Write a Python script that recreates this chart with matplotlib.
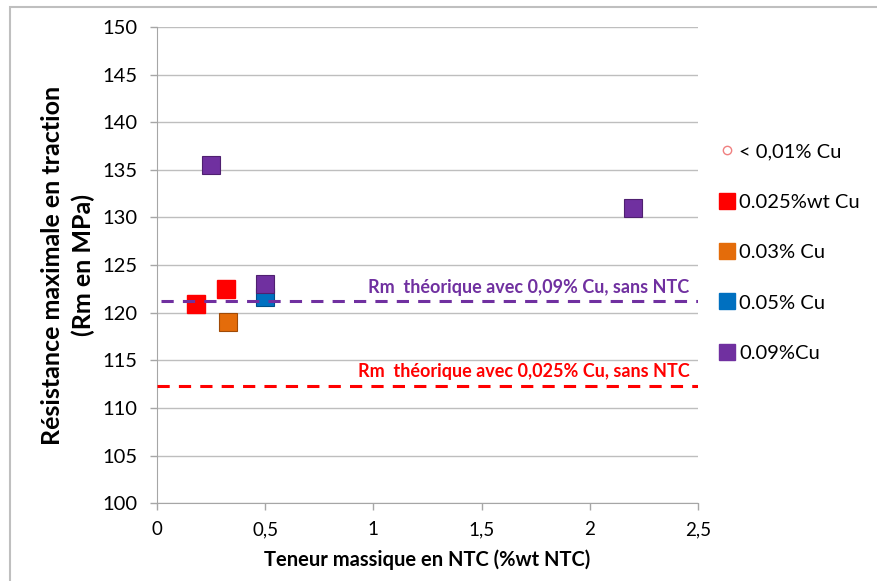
import matplotlib.pyplot as plt
from matplotlib.lines import Line2D
from matplotlib.patches import Rectangle

plt.rcParams['font.family'] = ['Lato', 'DejaVu Sans']

# NTC content (%wt) and tensile strength (MPa) per copper grade
ntc_001 = []
rm_001 = []
ntc_0025 = [0.18, 0.32]
rm_0025 = [120.9, 122.5]
ntc_003 = [0.33]
rm_003 = [119.0]
ntc_005 = [0.50]
rm_005 = [121.7]
ntc_009 = [0.25, 0.50, 2.20]
rm_009 = [135.5, 123.0, 131.0]

# theoretical Rm without NTC
rm_theo_009 = 121.25
rm_theo_0025 = 112.3

labels = ['< 0,01% Cu', '0.025%wt Cu', '0.03% Cu', '0.05% Cu', '0.09%Cu']

c_red = '#FF0000'
c_orange = '#E46C0A'
c_blue = '#0070C0'
c_purple = '#7030A0'

fig = plt.figure(figsize=(8.77, 5.81), dpi=100)
ax = fig.add_axes([0.179, 0.134, 0.617, 0.8195])

ms = 13.5
ax.plot(ntc_001, rm_001, 'o', mfc='none', mec='#F08080', ms=5, zorder=3)
ax.plot(ntc_0025, rm_0025, 's', color=c_red, mec=c_red, ms=ms, zorder=3)
ax.plot(ntc_003, rm_003, 's', color=c_orange, mec='#A04A06', mew=0.8, ms=ms, zorder=3)
ax.plot(ntc_005, rm_005, 's', color=c_blue, mec='#004F88', mew=0.8, ms=ms, zorder=3)
ax.plot(ntc_009, rm_009, 's', color=c_purple, mec='#4F2070', mew=0.8, ms=ms, zorder=4)

ax.plot([0.02, 2.5], [rm_theo_009] * 2, ls=(0, (4, 3)), color=c_purple, lw=2.2, zorder=5)
ax.plot([0.0, 2.5], [rm_theo_0025] * 2, ls=(0, (4, 3)), color=c_red, lw=2.2, zorder=5)
ax.text(2.46, rm_theo_009 + 0.5, 'Rm  théorique avec 0,09% Cu, sans NTC',
        color=c_purple, fontsize=13, fontweight='bold', ha='right', va='bottom')
ax.text(2.46, rm_theo_0025 + 0.6, 'Rm  théorique avec 0,025% Cu, sans NTC',
        color=c_red, fontsize=13, fontweight='bold', ha='right', va='bottom')

ax.set_xlim(0, 2.5)
ax.set_ylim(100, 150)
ax.set_xticks([0, 0.5, 1, 1.5, 2, 2.5])
ax.set_xticklabels(['0', '0,5', '1', '1,5', '2', '2,5'])
ax.set_yticks(range(100, 151, 5))
ax.grid(axis='y', color='#BEBEBE', lw=1)
ax.set_axisbelow(True)
for s in ['top', 'right']:
    ax.spines[s].set_visible(False)
for s in ['left', 'bottom']:
    ax.spines[s].set_color('#A6A6A6')
ax.tick_params(axis='both', colors='#A6A6A6', length=5, width=1, labelcolor='black')
ax.tick_params(axis='y', labelsize=14.5, pad=9)
ax.tick_params(axis='x', labelsize=13.5, pad=8)

ax.set_xlabel('Teneur massique en NTC (%wt NTC)', fontsize=14.5, fontweight='bold', labelpad=8)
ax.set_ylabel('Résistance maximale en traction\n(Rm en MPa)', fontsize=18, fontweight='bold',
              labelpad=5, linespacing=1.4)

handles = [
    Line2D([], [], ls='none', marker='o', mfc='none', mec='#F08080', ms=6),
    Line2D([], [], ls='none', marker='s', color=c_red, ms=11),
    Line2D([], [], ls='none', marker='s', color=c_orange, ms=11),
    Line2D([], [], ls='none', marker='s', color=c_blue, ms=11),
    Line2D([], [], ls='none', marker='s', color=c_purple, ms=11),
]
fig.legend(handles, labels, loc='upper left', bbox_to_anchor=(0.812, 0.767), frameon=False,
           fontsize=14.5, handlelength=0.7, handletextpad=0.25, labelspacing=1.65,
           borderaxespad=0)

# chart frame
fig.patches.append(Rectangle((0.0114, -0.01), 1.0, 0.9985, transform=fig.transFigure,
                             fill=False, edgecolor='#BFBFBF', lw=1.5))

fig.savefig('out.png', dpi=100)
